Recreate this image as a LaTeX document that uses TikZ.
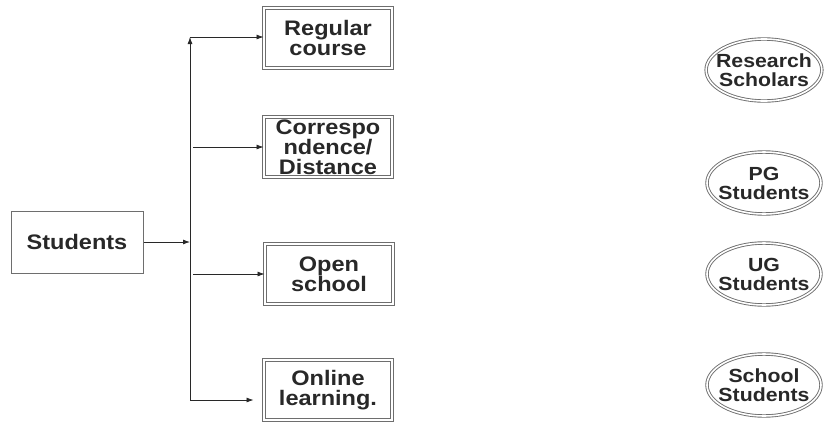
\documentclass[tikz,border=0pt]{standalone}
\usepackage{fontspec}
\setmainfont{Liberation Sans}
\newfontfamily\widesans[FakeStretch=1.12]{Liberation Sans}
\usepackage{tikz}
\usetikzlibrary{positioning,arrows.meta,shapes.geometric,calc}
\definecolor{framegray}{RGB}{110,110,110}
\definecolor{inkgray}{RGB}{40,40,40}
\tikzset{
  modebox/.style={rectangle, draw=framegray, double=white, double distance=1.6pt, line width=0.9pt,
    minimum width=128pt, minimum height=60pt, inner sep=0pt, align=center, text=inkgray,
    font=\widesans\fontsize{21}{20}\selectfont\bfseries},
  leveloval/.style={ellipse, draw=framegray, double=white, double distance=1.6pt, line width=0.9pt,
    minimum width=114pt, minimum height=62pt, inner sep=-7pt, align=center, text=inkgray,
    font=\widesans\fontsize{19}{19}\selectfont\bfseries},
  branch/.style={draw=inkgray, line width=0.8pt, -{Latex[length=7pt,width=5pt]}}
}

\begin{document}
\begin{tikzpicture}[x=1pt,y=-1pt]
  \useasboundingbox (0,0) rectangle (825,421);

  % Source
  \node[rectangle, draw=framegray, line width=1pt, minimum width=132pt, minimum height=62pt,
    text=inkgray, font=\widesans\fontsize{21}{20}\selectfont\bfseries] (stud) at (77,242) {Students};

  % Modes of study
  \node[modebox] (reg) at (328,38) {Regular\\course};
  \node[modebox] (corr) at (328,147) {Correspo\\ndence/\\Distance};
  \node[modebox] (open) at (329,274) {Open\\school};
  \node[modebox] (onl) at (328,390) {Online\\learning.};

  % Levels
  \node[leveloval] (rs) at (764,70) {Research\\Scholars};
  \node[leveloval] (pg) at (764,183) {PG\\Students};
  \node[leveloval] (ug) at (764,274) {UG\\Students};
  \node[leveloval] (sch) at (764,385) {School\\Students};

  % Trunk
  \coordinate (join) at (190,242);
  \coordinate (top) at (190,37);
  \coordinate (bot) at (190,400);
  \draw[branch] (stud.east) -- (join);
  \draw[branch] (bot) -- (top);
  \draw[branch] (top) -- (top -| reg.west);
  \draw[branch] ([xshift=3pt]corr.west -| top) -- (corr.west);
  \draw[branch] ([xshift=3pt]open.west -| top) -- (open.west);
  \draw[branch, shorten >=10pt] (bot) -- (bot -| onl.west);

\end{tikzpicture}
\end{document}
